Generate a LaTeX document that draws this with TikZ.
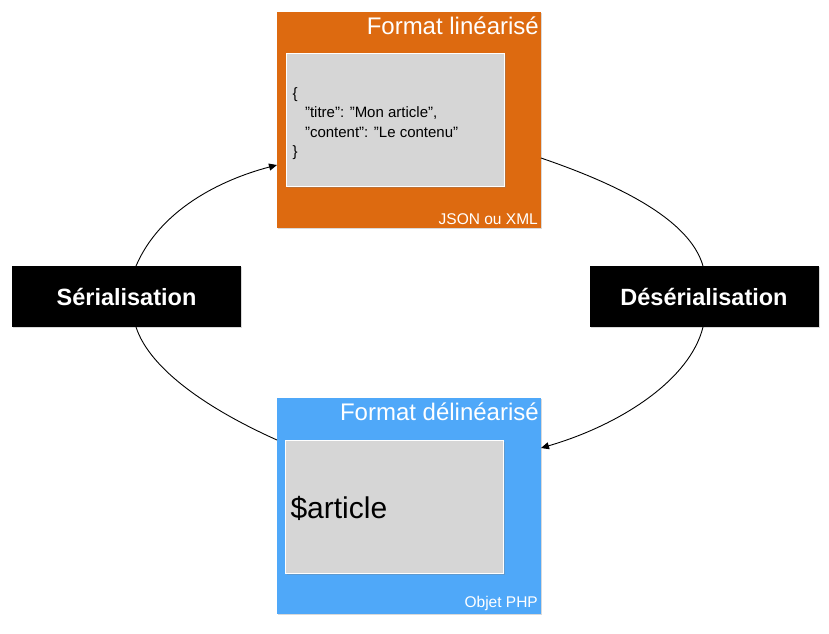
\documentclass[tikz,border=0pt]{standalone}
\usepackage{fontspec}
\setmainfont{Liberation Sans}
\usetikzlibrary{arrows.meta,shadows}
\definecolor{orng}{HTML}{DD6A10}
\definecolor{blu}{HTML}{4FA8F9}
\definecolor{gry}{HTML}{D6D6D6}
\newcommand\dq{\symbol{34}}
\tikzset{
 outer/.style={draw=none,inner sep=0pt,drop shadow={opacity=0.3,shadow xshift=1pt,shadow yshift=-1pt}},
 inner/.style={fill=gry,draw=white,line width=0.8pt,drop shadow={opacity=0.35,shadow xshift=1.5pt,shadow yshift=-1.5pt}},
 blk/.style={fill=black,text=white,font=\bfseries\fontsize{23.5}{28}\selectfont,minimum width=229pt,minimum height=61pt,drop shadow={opacity=0.3,shadow xshift=1pt,shadow yshift=-1pt}},
 conn/.style={line width=0.9pt},
 tip/.style={-{Triangle[length=8pt,width=7pt]}}
}
\begin{document}
\begin{tikzpicture}[x=1pt,y=-1pt]
\useasboundingbox (0,0) rectangle (829,633);
% top box
\fill[orng,outer] (277,12) rectangle (541,228);
\node[anchor=north east,text=white,font=\fontsize{24}{28}\selectfont,inner sep=2pt] (t1) at (541,15) {Format linéarisé};
\fill[inner] (286,53) rectangle (504,186);
\coordinate (tl) at (277,165);
\coordinate (tr) at (541,158);
\node[anchor=north west,align=left,font=\fontsize{15}{19.5}\selectfont] (code) at (289,84)
 {\{\\\ \ \ \dq titre\dq: \dq Mon article\dq,\\\ \ \ \dq content\dq: \dq Le contenu\dq\\\}};
\node[anchor=south east,text=white,font=\fontsize{15.5}{18}\selectfont,inner sep=2pt] (j) at (540,227) {JSON ou XML};
% bottom box
\fill[blu,outer] (277,398) rectangle (541,614);
\node[anchor=north east,text=white,font=\fontsize{24}{28}\selectfont,inner sep=2pt] (t2) at (541,401) {Format délinéarisé};
\fill[inner] (285,440) rectangle (503,573);
\node[anchor=west,font=\fontsize{30}{34}\selectfont] (art) at (287,508) {\$article};
\node[anchor=south east,text=white,font=\fontsize{15.5}{18}\selectfont,inner sep=2pt] (o) at (540,613) {Objet PHP};
\coordinate (bl) at (277,440);
\coordinate (br) at (541,448);
% side boxes
\node[blk] (s) at (126.5,296.5) {Sérialisation};
\node[blk] (d) at (704,296.5) {Désérialisation};
% arcs
\draw[conn,tip] (136,266) .. controls (160,210) and (220,180) .. (tl);
\draw[conn] (tr) .. controls (620,185) and (690,220) .. (703,266);
\draw[conn,tip] (703,327) .. controls (690,380) and (620,425) .. (br);
\draw[conn] (bl) .. controls (210,410) and (150,370) .. (136,327);
\end{tikzpicture}
\end{document}
